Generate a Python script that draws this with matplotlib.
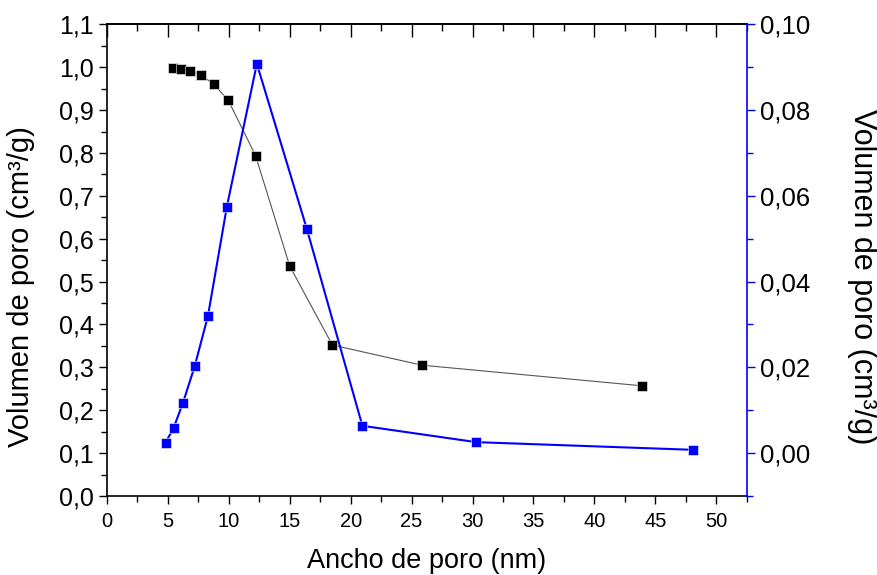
import matplotlib
matplotlib.use("Agg")
import matplotlib.pyplot as plt
from matplotlib.ticker import MultipleLocator, FuncFormatter

plt.rcParams['font.family'] = ['Liberation Sans', 'DejaVu Sans']

# Cumulative pore volume (left axis)
x_cum = [5.43, 6.04, 6.80, 7.70, 8.77, 9.95, 12.19, 15.0, 18.5, 25.87, 43.9]
y_cum = [0.998, 0.996, 0.992, 0.982, 0.960, 0.923, 0.794, 0.536, 0.352, 0.305, 0.257]

# Differential pore volume (right axis)
x_diff = [4.81, 5.46, 6.23, 7.19, 8.28, 9.84, 12.30, 16.4, 20.96, 30.3, 48.06]
y_diff = [0.00247, 0.00583, 0.01167, 0.0202, 0.0319, 0.0575, 0.0908, 0.0523, 0.00637, 0.00256, 0.00077]

fig = plt.figure(figsize=(8.77, 5.75), dpi=100)
ax = fig.add_axes([0.122, 0.1374, 0.8514 - 0.122, 0.9577 - 0.1374])

ax.plot(x_cum, y_cum, color='#555555', lw=0.8, marker='s', ms=6.5,
        mfc='black', mec='white', mew=0.4, zorder=3)
ax.set_xlim(0, 52.5)
ax.set_ylim(0, 1.1)
ax.xaxis.set_major_locator(MultipleLocator(5))
ax.xaxis.set_minor_locator(MultipleLocator(2.5))
ax.yaxis.set_major_locator(MultipleLocator(0.1))
ax.yaxis.set_minor_locator(MultipleLocator(0.05))
ax.yaxis.set_major_formatter(FuncFormatter(lambda v, p: f"{v:.1f}".replace('.', ',')))
ax.tick_params(axis='both', which='major', direction='out', length=6, width=1.0, colors='black')
ax.tick_params(axis='both', which='minor', direction='out', length=4, width=1.0)
ax.tick_params(axis='x', which='major', labelsize=14.5, pad=5.5)
ax.tick_params(axis='y', which='major', labelsize=18)
ax.spines['right'].set_visible(False)
for s in ['left', 'bottom', 'top']:
    ax.spines[s].set_linewidth(1.2)
ax.set_xlabel('Ancho de poro (nm)', fontsize=19.5, va='center')
ax.xaxis.set_label_coords(0.5, -0.137)
ax.set_ylabel('Volumen de poro (cm³/g)', fontsize=21, ha='center', va='center')
ax.yaxis.set_label_coords(-0.1344, 0.445)

top = ax.secondary_xaxis('top')
top.xaxis.set_major_locator(MultipleLocator(5))
top.xaxis.set_minor_locator(MultipleLocator(2.5))
top.tick_params(which='major', direction='in', length=9, width=1.0, labeltop=False)
top.tick_params(which='minor', direction='in', length=5, width=1.0)
top.spines['top'].set_linewidth(1.2)

ax2 = ax.twinx()
ax2.plot(x_diff, y_diff, color='#0000ff', lw=1.5, marker='s', ms=6.5,
         mfc='#0000ff', mec='white', mew=0.4, zorder=3)
ax2.set_ylim(-0.01, 0.10)
ax2.yaxis.set_major_locator(MultipleLocator(0.02))
ax2.yaxis.set_minor_locator(MultipleLocator(0.01))
ax2.yaxis.set_major_formatter(FuncFormatter(lambda v, p: f"{v:.2f}".replace('.', ',')))
ax2.tick_params(axis='y', which='major', direction='out', length=6, width=1.0,
                color='#0000ff', labelcolor='black', labelsize=18.5)
ax2.tick_params(axis='y', which='minor', direction='out', length=4, width=1.0, color='#0000ff')
ax2.spines['right'].set_color('#0000ff')
ax2.spines['right'].set_linewidth(1.2)
for s in ['left', 'top', 'bottom']:
    ax2.spines[s].set_visible(False)
ax2.set_ylabel('Volumen de poro (cm³/g)', fontsize=22, rotation=270, ha='center', va='center')
ax2.yaxis.set_label_coords(1.180, 0.466)

fig.savefig('out.png', dpi=100)
